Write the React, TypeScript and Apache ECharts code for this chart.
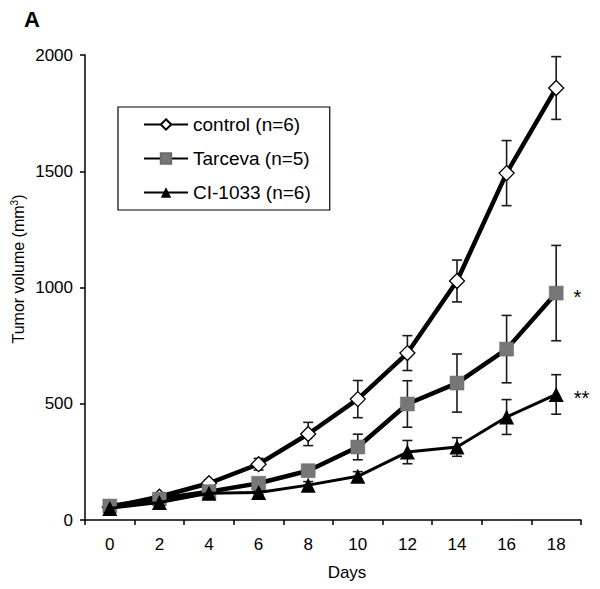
import React, { useEffect, useRef } from "react";
import * as echarts from "echarts";

const days = ["0", "2", "4", "6", "8", "10", "12", "14", "16", "18"];
const yTicks = [0, 500, 1000, 1500, 2000];
const controlMean = [55, 100, 158, 240, 370, 520, 718, 1028, 1492, 1858];
const controlErr = [8, 12, 15, 25, 50, 80, 75, 90, 140, 135];
const tarcevaMean = [60, 90, 122, 158, 212, 314, 499, 589, 735, 976];
const tarcevaErr = [8, 10, 12, 15, 22, 55, 100, 125, 145, 205];
const ciMean = [50, 75, 115, 118, 150, 188, 292, 314, 443, 540];
const ciErr = [6, 8, 12, 10, 15, 20, 50, 40, 75, 85];
const seriesNames = ["control (n=6)", "Tarceva (n=5)", "CI-1033 (n=6)"];
const endMarks = ["", "*", "**"];

const FONT = "Liberation Sans, Arial, sans-serif";

function errData(mean: number[], err: number[]) {
  return mean.map((m, i) => [i, m - err[i], m + err[i]]);
}

function renderErr(params: any, api: any) {
  const x = api.value(0);
  const lo = api.coord([x, api.value(1)]);
  const hi = api.coord([x, api.value(2)]);
  const cap = 5;
  const style = { stroke: "#1a1a1a", lineWidth: 1.6 };
  return {
    type: "group",
    children: [
      { type: "line", shape: { x1: lo[0], y1: lo[1], x2: hi[0], y2: hi[1] }, style },
      { type: "line", shape: { x1: lo[0] - cap, y1: lo[1], x2: lo[0] + cap, y2: lo[1] }, style },
      { type: "line", shape: { x1: hi[0] - cap, y1: hi[1], x2: hi[0] + cap, y2: hi[1] }, style },
    ],
  };
}

function withEndLabel(values: number[], mark: string) {
  return values.map((v, i) =>
    i === values.length - 1 && mark
      ? {
          value: v,
          label: {
            show: true,
            position: "right",
            distance: 10,
            offset: [0, 4],
            formatter: mark,
            fontSize: 20,
            color: "#000",
            fontFamily: FONT,
          },
        }
      : v
  );
}

export default function App() {
  const ref = useRef<HTMLDivElement>(null);
  useEffect(() => {
    if (!ref.current) return;
    const chart = echarts.init(ref.current, undefined, { renderer: "svg" });
    chart.setOption({
      animation: false,
      backgroundColor: "#fff",
      textStyle: { fontFamily: FONT, color: "#000" },
      grid: { left: 85, right: 19, top: 55, bottom: 69 },
      xAxis: {
        type: "category",
        data: days,
        boundaryGap: true,
        axisLine: { lineStyle: { color: "#000", width: 1.5 } },
        axisTick: { show: true, length: 5, lineStyle: { color: "#000", width: 1.5 } },
        axisLabel: { color: "#000", fontSize: 17, margin: 16, fontFamily: FONT },
        splitLine: { show: false },
      },
      yAxis: {
        type: "value",
        min: yTicks[0],
        max: yTicks[yTicks.length - 1],
        interval: 500,
        axisLine: { show: true, lineStyle: { color: "#000", width: 1.5 } },
        axisTick: { show: true, length: 5, lineStyle: { color: "#000", width: 1.5 } },
        axisLabel: {
          color: "#000",
          fontSize: 17,
          margin: 12,
          fontFamily: FONT,
          formatter: (v: number) => String(v),
        },
        splitLine: { show: false },
      },
      legend: {
        orient: "vertical",
        left: 118,
        top: 107,
        data: seriesNames,
        borderColor: "#000",
        borderWidth: 1.2,
        padding: [8, 19, 8, 25],
        itemGap: 15,
        itemWidth: 44,
        itemHeight: 13,
        textStyle: { color: "#000", fontSize: 19, fontFamily: FONT },
      },
      graphic: [
        {
          type: "text",
          left: 24,
          top: 8,
          style: { text: "A", fontSize: 22, fontWeight: "bold", fill: "#000", fontFamily: FONT },
        },
        {
          type: "text",
          x: 18,
          y: 269,
          rotation: Math.PI / 2,
          style: {
            text: "{a|Tumor volume (mm}{s|3}{a|)}",
            align: "center",
            verticalAlign: "middle",
            fill: "#000",
            rich: {
              a: { fontSize: 16, fontFamily: FONT, fill: "#000", color: "#000" },
              s: {
                fontSize: 10,
                fontFamily: FONT,
                fill: "#000",
                color: "#000",
                verticalAlign: "top",
                padding: [0, 0, 7, 0],
              },
            },
          },
        },
        {
          type: "text",
          x: 347,
          y: 572,
          style: {
            text: "Days",
            align: "center",
            verticalAlign: "middle",
            fontSize: 17,
            fill: "#000",
            fontFamily: FONT,
          },
        },
      ],
      series: [
        {
          type: "custom",
          name: "errControl",
          renderItem: renderErr,
          data: errData(controlMean, controlErr),
          encode: { x: 0, y: [1, 2] },
          z: 1,
        },
        {
          type: "custom",
          name: "errTarceva",
          renderItem: renderErr,
          data: errData(tarcevaMean, tarcevaErr),
          encode: { x: 0, y: [1, 2] },
          z: 1,
        },
        {
          type: "custom",
          name: "errCI",
          renderItem: renderErr,
          data: errData(ciMean, ciErr),
          encode: { x: 0, y: [1, 2] },
          z: 1,
        },
        {
          type: "line",
          name: seriesNames[0],
          data: withEndLabel(controlMean, endMarks[0]),
          symbol: "diamond",
          symbolSize: 15,
          showAllSymbol: true,
          lineStyle: { color: "#000", width: 4.5 },
          itemStyle: { color: "#fff", borderColor: "#000", borderWidth: 1.3 },
          z: 2,
        },
        {
          type: "line",
          name: seriesNames[1],
          data: withEndLabel(tarcevaMean, endMarks[1]),
          symbol: "rect",
          symbolSize: 14,
          showAllSymbol: true,
          lineStyle: { color: "#000", width: 4.5 },
          itemStyle: { color: "#777777", borderColor: "#6a6a6a", borderWidth: 0.5 },
          z: 3,
        },
        {
          type: "line",
          name: seriesNames[2],
          data: withEndLabel(ciMean, endMarks[2]),
          symbol: "triangle",
          symbolSize: 15,
          showAllSymbol: true,
          lineStyle: { color: "#000", width: 3 },
          itemStyle: { color: "#000", borderColor: "#000", borderWidth: 0 },
          z: 4,
        },
      ],
    });
    return () => chart.dispose();
  }, []);
  return <div ref={ref} style={{ width: 600, height: 589, position: "absolute", left: 0, top: 0 }} />;
}
